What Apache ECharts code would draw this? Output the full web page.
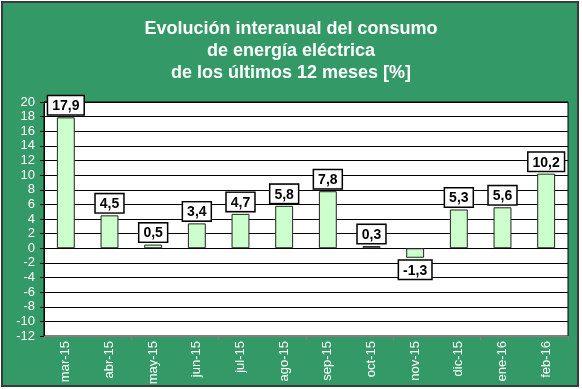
<!DOCTYPE html>
<html><head><meta charset="utf-8">
<script src="https://cdn.jsdelivr.net/npm/echarts@6/dist/echarts.min.js"></script>
<style>html,body{margin:0;padding:0;background:#fff}#c{width:582px;height:389px}</style>
</head><body><div id="c"></div>
<script>
const categories = ['mar-15','abr-15','may-15','jun-15','jul-15','ago-15','sep-15','oct-15','nov-15','dic-15','ene-16','feb-16'];
const values = [17.9, 4.5, 0.5, 3.4, 4.7, 5.8, 7.8, 0.3, -1.3, 5.3, 5.6, 10.2];
const titleLines = ['Evolución interanual del consumo', 'de energía eléctrica', 'de los últimos 12 meses [%]'];
const yMin = -12, yMax = 20, yStep = 2;

const chart = echarts.init(document.getElementById('c'), null, {renderer: 'canvas'});
const font = 'Liberation Sans, Arial, sans-serif';
chart.setOption({
  animation: false,
  backgroundColor: '#fff',
  graphic: [{
    type: 'rect', z: -10, silent: true,
    shape: {x: 2, y: 2, width: 576, height: 384},
    style: {fill: '#339966', stroke: '#3a3a3a', lineWidth: 2}
  }],
  title: {
    text: titleLines.join('\n'),
    left: 'center', top: 13,
    textStyle: {color: '#fff', fontFamily: font, fontWeight: 'bold', fontSize: 18, lineHeight: 22}
  },
  grid: {left: 44, right: 14, top: 102, bottom: 53, show: true, backgroundColor: '#fff', borderColor: '#000', borderWidth: 1},
  xAxis: [{
    type: 'category', data: categories, position: 'bottom',
    axisLine: {show: false}, axisTick: {show: false},
    axisLabel: {rotate: 90, color: '#fff', fontFamily: font, fontSize: 13, margin: 5}
  }, {
    type: 'category', data: categories, position: 'bottom',
    axisLine: {show: true, onZero: true, lineStyle: {color: '#808080', width: 1}},
    axisTick: {show: true, inside: false, length: 4, lineStyle: {color: '#808080'}},
    axisLabel: {show: false}
  }],
  yAxis: {
    type: 'value', min: yMin, max: yMax, interval: yStep,
    axisLine: {show: true, lineStyle: {color: '#000'}},
    axisTick: {show: true, length: 4, lineStyle: {color: '#000'}},
    splitLine: {show: true, lineStyle: {color: '#000', width: 1}},
    axisLabel: {color: '#fff', fontFamily: font, fontSize: 13, margin: 9}
  },
  series: [{
    type: 'bar', xAxisIndex: 0, barWidth: '41%',
    data: values.map(v => v < 0 ? {value: v, label: {position: 'bottom'}} : v),
    itemStyle: {color: '#ccffcc', borderColor: '#222', borderWidth: 1},
    label: {
      show: true,
      position: 'top',
      distance: 3,
      formatter: p => String(p.value).replace('.', ','),
      color: '#000', fontFamily: font, fontWeight: 'bold', fontSize: 14,
      backgroundColor: '#fff', borderColor: '#000', borderWidth: 1.5, padding: [3, 4, 1, 4]
    }
  }]
});
</script></body></html>
